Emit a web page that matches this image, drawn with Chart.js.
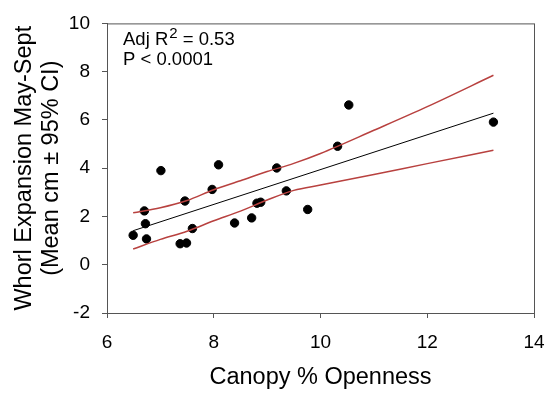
<!DOCTYPE html>
<html>
<head>
<meta charset="utf-8">
<script src="https://cdn.jsdelivr.net/npm/chart.js@4"></script>
<style>
  html, body { margin: 0; padding: 0; background: #fff; }
</style>
</head>
<body>
<canvas id="whorl-chart" width="550" height="394"></canvas>
<script>
const canopyX = [6.49, 6.70, 6.72, 6.74, 7.01, 7.37, 7.49, 7.46, 7.60, 7.97, 8.09,
  8.39, 8.71, 8.81, 8.88, 9.18, 9.36, 9.76, 10.32, 10.53, 13.24];
const whorlY = [1.22, 2.23, 1.70, 1.07, 3.90, 0.87, 0.90, 2.64, 1.50, 3.12, 4.14,
  1.73, 1.94, 2.55, 2.59, 4.01, 3.06, 2.29, 4.91, 6.62, 5.91];

// fitted line
const fitX = [6.49, 13.24];
const fitY = [1.41, 6.28];

// 95% confidence band
const ciX = [6.49, 7, 7.5, 8, 8.5, 9, 9.5, 10, 11, 12, 13.24];
const ciUpper = [2.15, 2.36, 2.66, 3.11, 3.48, 3.86, 4.20, 4.61, 5.57, 6.55, 7.85];
const ciLower = [0.65, 1.05, 1.39, 1.82, 2.22, 2.68, 3.08, 3.30, 3.74, 4.19, 4.74];

const annoLines = ["Adj R", "2", " = 0.53", "P < 0.0001"];

const toXY = (xs, ys) => xs.map((x, i) => ({ x: x, y: ys[i] }));

const FONT = "'Liberation Sans', Arial, sans-serif";
const RED = "#b8413f";
const AXIS = "#555";

// box around plot + stats text
const frameAndText = {
  id: "frameAndText",
  afterDraw(chart) {
    const { ctx, chartArea } = chart;
    ctx.save();
    ctx.strokeStyle = AXIS;
    ctx.lineWidth = 1;
    ctx.strokeRect(chartArea.left + 0.5, chartArea.top + 0.5,
      chartArea.right - chartArea.left, chartArea.bottom - chartArea.top);

    ctx.fillStyle = "#000";
    ctx.textBaseline = "alphabetic";
    ctx.font = "18.5px " + FONT;
    let x = chartArea.left + 16;
    ctx.fillText(annoLines[0], x, 45);
    x += ctx.measureText(annoLines[0]).width;
    ctx.font = "15px " + FONT;
    ctx.fillText(annoLines[1], x + 1, 38);
    x += ctx.measureText(annoLines[1]).width + 1;
    ctx.font = "18.5px " + FONT;
    ctx.fillText(annoLines[2], x, 45);
    ctx.fillText(annoLines[3], chartArea.left + 16, 65);
    ctx.restore();
  }
};

new Chart(document.getElementById("whorl-chart"), {
  type: "scatter",
  data: {
    datasets: [
      {
        label: "upper",
        data: toXY(ciX, ciUpper),
        showLine: true,
        borderColor: RED,
        borderWidth: 1.5,
        pointRadius: 0,
        cubicInterpolationMode: "monotone"
      },
      {
        label: "lower",
        data: toXY(ciX, ciLower),
        showLine: true,
        borderColor: RED,
        borderWidth: 1.5,
        pointRadius: 0,
        cubicInterpolationMode: "monotone"
      },
      {
        label: "fit",
        data: toXY(fitX, fitY),
        showLine: true,
        borderColor: "#000",
        borderWidth: 1,
        pointRadius: 0
      },
      {
        label: "obs",
        data: toXY(canopyX, whorlY),
        backgroundColor: "#000",
        borderColor: "#000",
        pointRadius: 4.2
      }
    ]
  },
  options: {
    responsive: false,
    animation: false,
    devicePixelRatio: 1,
    layout: { padding: { top: 15, right: 16, left: 0, bottom: 0 } },
    plugins: { legend: { display: false }, tooltip: { enabled: false } },
    scales: {
      x: {
        type: "linear",
        min: 6,
        max: 14,
        ticks: { stepSize: 2, color: "#000", padding: 13, font: { family: FONT, size: 19 } },
        grid: { drawOnChartArea: false, tickLength: 5, color: AXIS },
        border: { color: AXIS },
        title: {
          display: true,
          text: "Canopy % Openness",
          color: "#000",
          font: { family: FONT, size: 23.5, lineHeight: 1.15 },
          padding: { top: 0, bottom: 3 }
        },
        afterFit(scale) {
          scale.height = 81;
          scale.paddingLeft = 0;
          scale.paddingRight = 0;
        }
      },
      y: {
        type: "linear",
        min: -2,
        max: 10,
        ticks: { stepSize: 2, color: "#000", padding: 12, font: { family: FONT, size: 19 } },
        grid: { drawOnChartArea: false, tickLength: 5, color: AXIS },
        border: { color: AXIS },
        title: {
          display: true,
          text: ["Whorl Expansion May-Sept", "(Mean cm \u00B1 95% CI)"],
          color: "#000",
          font: { family: FONT, size: 23.5, lineHeight: 1.15 },
          padding: { top: 11, bottom: 0 }
        },
        afterFit(scale) { scale.width = 107; }
      }
    }
  },
  plugins: [frameAndText]
});
</script>
</body>
</html>
